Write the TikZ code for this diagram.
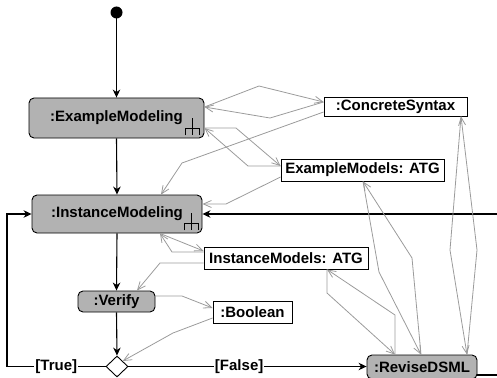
\documentclass[tikz,border=0pt]{standalone}
\usepackage{fontspec}
\setmainfont{Liberation Sans}
\usetikzlibrary{arrows.meta,shapes.geometric,calc}
\definecolor{actfill}{RGB}{178,178,178}
\definecolor{flowgray}{RGB}{155,155,155}
\begin{document}
\begin{tikzpicture}[x=1pt,y=-1pt,
  font=\fontsize{15}{18}\selectfont\bfseries,
  act/.style={draw=black,line width=0.9pt,fill=actfill,rounded corners=5pt,
    minimum width=#1,inner sep=0pt,anchor=center},
  obj/.style={draw=black,line width=0.9pt,fill=white,minimum width=#1,inner sep=0pt,anchor=center},
  ctrl/.style={draw=black,line width=1.1pt,-{Stealth[length=8pt,width=7.5pt,inset=2.5pt]}},
  flow/.style={draw=flowgray,line width=0.8pt,-{Straight Barb[length=8pt,width=7pt]}},
  guard/.style={fill=white,inner sep=1pt},
  rake/.pic={
    \draw[line width=0.7pt] (0,-17) -- (0,0);
    \draw[line width=0.7pt] (-7,0) -- (-7,-7) -- (7,-7) -- (7,0);
  }]
\useasboundingbox (0,0) rectangle (497,377);

% initial node
\fill (116.5,12.5) circle (6);
\coordinate (init) at (116.5,12.5);

% actions
\node[act=175pt,minimum height=40pt] (EM) at (116.5,118) {:ExampleModeling};
\node[act=170pt,minimum height=38pt] (IM) at (117,214) {:InstanceModeling};
\node[act=77pt,minimum height=21pt] (V) at (116.5,301.5) {:Verify};
\node[act=110pt,minimum height=24pt] (R) at (422,367) {:ReviseDSML};

% decision
\node[diamond,draw=black,line width=0.9pt,fill=white,minimum width=22pt,minimum height=21pt,inner sep=0pt] (D) at (117,366.5) {};

% object nodes
\node[obj=143pt,minimum height=19pt] (CS) at (395.5,106.5) {:ConcreteSyntax};
\node[obj=163pt,minimum height=22pt] (EMA) at (362.5,170) {ExampleModels: ATG};
\node[obj=164pt,minimum height=22pt] (IMA) at (286,258) {InstanceModels: ATG};
\node[obj=79pt,minimum height=22pt] (B) at (252.5,312) {:Boolean};

% call-behaviour rakes
\pic at ($(EM.south east)+(-12,-3)$) {rake};
\pic at ($(IM.south east)+(-11.5,-3)$) {rake};

% control flow
\draw[ctrl] ($(init)+(0,6)$) -- (EM.north);
\draw[ctrl] (EM.south) -- (IM.north);
\draw[ctrl] (IM.south) -- (V.north);
\draw[ctrl] (V.south) -- (D.north);
\coordinate (loopL) at (7,366.5);
\draw[ctrl] (D.west) -- node[guard,pos=0.5] {[True]} (loopL) |- (IM.west);
\draw[ctrl] (D.east) -- node[guard,pos=0.465] {[False]} (D.east -| R.west);
\coordinate (backIn) at (497,214);
\draw[ctrl] (backIn) -- (IM.east);
\coordinate (backOut) at (497,375);
\draw[line width=1.1pt] ($(R.east)+(0,8)$) -- (backOut);

% object flow
\draw[flow] ($(EM.east)+(0,-11)$) -- (259,86) -- ($(CS.west)+(0,-4.5)$);
\draw[flow] ($(CS.west)+(0,-4.5)$) -- (270,118) -- ($(EM.east)+(0,-11)$);
\draw[flow] ($(CS.west)+(0,5.5)$) -- (182,163) -- ($(IM.north)+(44,0)$);
\draw[flow] ($(EM.east)+(0,10)$) -- (236,128) -- ($(EMA.west)+(0,-4)$);
\draw[flow] ($(EMA.west)+(0,-4)$) -- (248,166) -- ($(EM.east)+(0,10)$);
\draw[flow] ($(EMA.west)+(0,7)$) -- (226,204) -- ($(IM.east)+(0,-10)$);
\draw[flow] ($(IM.south)+(43,0)$) -- ($(IMA.west)+(0,-7)$);
\draw[flow] ($(IMA.west)+(0,-6)$) -- (172,252) -- ($(IM.south)+(43,0)$);
\draw[flow] ($(IMA.west)+(0,5)$) -- (160,263) -- ($(V.north)+(20.5,0)$);
\draw[flow] ($(V.east)+(0,-5.5)$) -- (182,296) -- ($(B.west)+(0,-4)$);
\draw[flow] ($(B.west)+(0,6)$) -- (173,333) -- (D.north east);
\draw[flow] ($(IMA.south)+(41,0)$) -- (327,293) -- ($(R.north)+(-27,0)$);
\draw[flow] ($(R.north)+(-27,0)$) -- (395,315) -- ($(IMA.south)+(41,0)$);
\draw[flow] ($(EMA.south)+(0.5,0)$) -- (379,272) -- ($(R.north)+(-1,0)$);
\draw[flow] ($(R.north)+(-1,0)$) -- (412,258) -- ($(EMA.south)+(0.5,0)$);
\draw[flow] ($(CS.south)+(65.5,0)$) -- (450,250) -- ($(R.north)+(45,0)$);
\draw[flow] ($(R.north)+(45,0)$) -- (477,250) -- ($(CS.south)+(65.5,0)$);
\end{tikzpicture}
\end{document}
